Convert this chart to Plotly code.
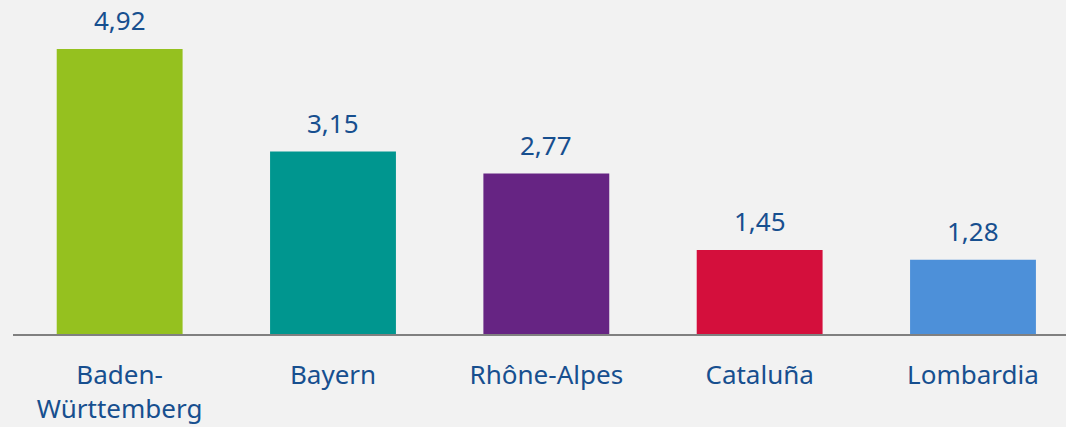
import plotly.graph_objects as go

categories = ["Baden-<br>Württemberg", "Bayern", "Rhône-Alpes", "Cataluña", "Lombardia"]
values = [4.92, 3.15, 2.77, 1.45, 1.28]
value_labels = ["4,92", "3,15", "2,77", "1,45", "1,28"]
colors = ["#95c11f", "#00968f", "#662483", "#d40f3c", "#4d90d9"]

TEXT = "#174f8f"
FONT = "Noto Sans"

fig = go.Figure()
fig.add_trace(go.Bar(
    x=list(range(len(categories))), y=values,
    marker=dict(color=colors, line=dict(width=0)),
    width=0.59, hoverinfo="skip",
))
for i, (v, t) in enumerate(zip(values, value_labels)):
    fig.add_annotation(x=i, y=v, text=t, showarrow=False, yanchor="bottom",
                       yshift=9, font=dict(family=FONT, size=26, color=TEXT))

fig.update_layout(
    width=1066, height=427,
    margin=dict(l=13, r=0, t=0, b=93),
    paper_bgcolor="#f2f2f2", plot_bgcolor="#f2f2f2",
    showlegend=False,
    font=dict(family=FONT, size=26, color=TEXT),
    xaxis=dict(range=[-0.5, 4.436], tickmode="array",
               tickvals=list(range(len(categories))), ticktext=categories,
               showgrid=False, zeroline=False, showline=True,
               linecolor="#808080", linewidth=2, ticks="",
               ticklabelstandoff=17,
               tickfont=dict(family=FONT, size=26, color=TEXT)),
    yaxis=dict(range=[0, 5.766], visible=False, showgrid=False, zeroline=False),
)
fig.write_html("out.html", config={"displayModeBar": False},
               post_script="document.body.style.margin='0';")
